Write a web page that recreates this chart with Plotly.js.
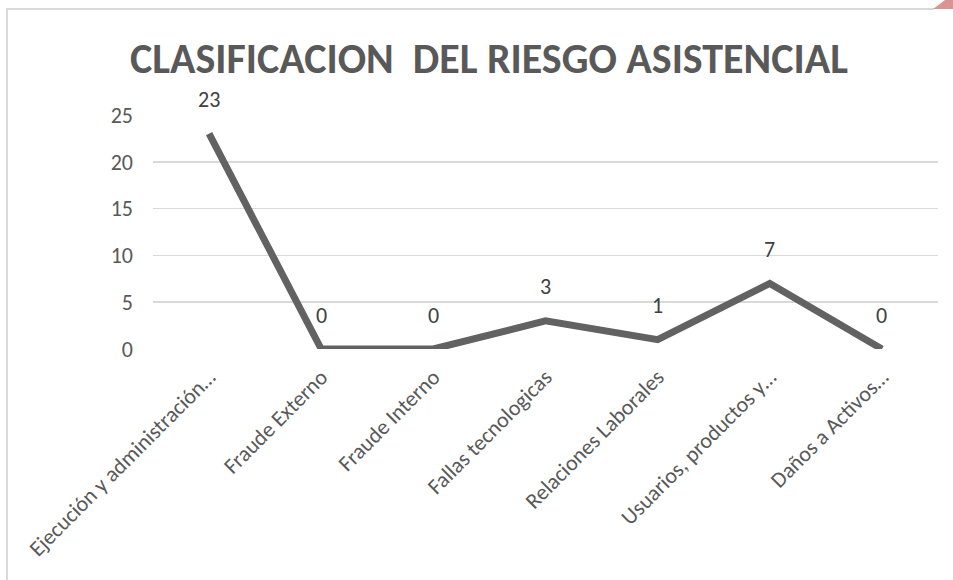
<!DOCTYPE html>
<html>
<head>
<meta charset="utf-8">
<script src="https://cdn.plot.ly/plotly-3.0.1.min.js"></script>
<style>html,body{margin:0;padding:0;background:#fff;}#chart{width:953px;height:580px;}</style>
</head>
<body>
<div id="chart"></div>
<script>
const categories = ["Ejecución y administración…", "Fraude Externo", "Fraude Interno", "Fallas tecnologicas", "Relaciones Laborales", "Usuarios, productos y…", "Daños a Activos…"];
const values = [23, 0, 0, 3, 1, 7, 0];
const yTicks = [0, 5, 10, 15, 20, 25];
const titleText = "CLASIFICACION  DEL RIESGO ASISTENCIAL";

const W = 953, H = 580, L = 153, R = 15, T = 115, B = 231;
const pw = W - L - R, ph = H - T - B;
const px = x => (x - L) / pw;
const py = y => (H - B - y) / ph;

const font = "Carlito, Lato, 'Open Sans', sans-serif";

const trace = {
  x: categories, y: values, type: 'scatter', mode: 'lines',
  line: {color: '#626262', width: 7},
  hoverinfo: 'skip'
};

const annotations = categories.map((c, i) => ({
  x: c, y: values[i], xref: 'x', yref: 'y', text: String(values[i]),
  showarrow: false, yshift: 34, font: {family: font, size: 22, color: '#404040'}
}));

const layout = {
  width: W, height: H,
  margin: {l: L, r: R, t: T, b: B},
  paper_bgcolor: '#fff', plot_bgcolor: '#fff',
  showlegend: false,
  title: {text: titleText, x: 489 / W, xref: 'container', xanchor: 'center', y: 1 - 58 / H, yanchor: 'middle',
    font: {family: font, size: 42, color: '#595959', weight: 'bold'}},
  xaxis: {type: 'category', range: [-0.5, 6.5], tickangle: -45, showgrid: false, zeroline: false,
    showline: false, ticks: '', ticklabelstandoff: 10, tickfont: {family: font, size: 22, color: '#595959'}},
  yaxis: {range: [0, 25], tickvals: yTicks, showgrid: true, gridcolor: '#d9d9d9', gridwidth: 1.5,
    zeroline: false, showline: false, ticks: '', ticklabelstandoff: 19,
    tickfont: {family: font, size: 22, color: '#595959'}},
  annotations: annotations,
  shapes: [
    {type: 'line', xref: 'paper', yref: 'paper', x0: px(6), x1: px(934), y0: py(9), y1: py(9), line: {color: '#d9d9d9', width: 2}},
    {type: 'line', xref: 'paper', yref: 'paper', x0: px(7), x1: px(7), y0: py(9), y1: py(580), line: {color: '#d9d9d9', width: 2}},
    {type: 'path', xref: 'paper', yref: 'paper',
      path: `M ${px(933)} ${py(9)} L ${px(953)} ${py(9)} L ${px(953)} ${py(-6)} Z`,
      fillcolor: '#d99594', line: {width: 0}}
  ]
};

Plotly.newPlot('chart', [trace], layout, {displayModeBar: false, staticPlot: true});
</script>
</body>
</html>
